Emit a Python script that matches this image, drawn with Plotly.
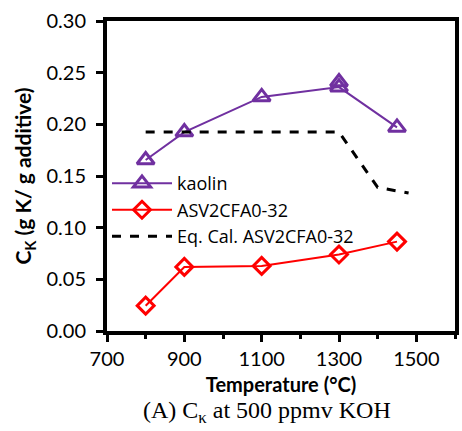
import plotly.graph_objects as go

# Temperatures (°C) and potassium capture coefficients C_K
temp_kaolin = [800, 900, 1100, 1300, 1450]
ck_kaolin = [0.1655, 0.1925, 0.2265, 0.236, 0.197]
temp_kaolin_extra = [1300]
ck_kaolin_extra = [0.241]

temp_asv = [800, 900, 1100, 1300, 1450]
ck_asv = [0.0245, 0.062, 0.063, 0.074, 0.0865]

temp_eq = [800, 1300, 1400, 1480]
ck_eq = [0.1925, 0.1925, 0.139, 0.1335]

x_ticks = [700, 900, 1100, 1300, 1500]
y_ticks = [0.00, 0.05, 0.10, 0.15, 0.20, 0.25, 0.30]

purple = "#7030A0"
red = "#FF0000"
sans = "Lato, Open Sans, sans-serif"

fig = go.Figure()
fig.add_trace(go.Scatter(
    x=temp_kaolin, y=ck_kaolin, mode="lines+markers", name="kaolin",
    line=dict(color=purple, width=2),
    marker=dict(symbol="triangle-up-open", size=15, color=purple, line=dict(width=3, color=purple)),
))
fig.add_trace(go.Scatter(
    x=temp_kaolin_extra, y=ck_kaolin_extra, mode="markers", showlegend=False,
    marker=dict(symbol="triangle-up-open", size=15, color=purple, line=dict(width=3, color=purple)),
))
fig.add_trace(go.Scatter(
    x=temp_asv, y=ck_asv, mode="lines+markers", name="ASV2CFA0-32",
    line=dict(color=red, width=2),
    marker=dict(symbol="diamond-open", size=13, color=red, line=dict(width=3, color=red)),
))
fig.add_trace(go.Scatter(
    x=temp_eq, y=ck_eq, mode="lines", name="Eq. Cal. ASV2CFA0-32",
    line=dict(color="black", width=3, dash="dash"),
))

axis_font = dict(family=sans, size=20, color="black")

fig.update_layout(
    width=462, height=431,
    margin=dict(l=107, r=3, t=21, b=100),
    plot_bgcolor="white", paper_bgcolor="white",
    font=axis_font,
    legend=dict(
        x=0.0, y=0.535, xanchor="left", yanchor="top",
        bgcolor="rgba(0,0,0,0)", font=dict(family="Open Sans, sans-serif", size=18, color="black"),
        itemwidth=60, tracegroupgap=0,
    ),
    xaxis=dict(
        range=[700, 1600], tickvals=x_ticks, ticks="outside", ticklen=7, tickwidth=3,
        tickcolor="black", showline=True, linecolor="black", linewidth=4, mirror=True,
        showgrid=False, zeroline=False, tickfont=axis_font,
        minor=dict(dtick=100, tick0=700, ticks="outside", ticklen=4, tickwidth=3, tickcolor="black", showgrid=False),
        title=dict(text="<b>Temperature (°C)</b>", font=dict(family=sans, size=20), standoff=10),
    ),
    yaxis=dict(
        range=[0, 0.30], tickvals=y_ticks, tickformat=".2f", ticks="outside", ticklen=7, tickwidth=3,
        tickcolor="black", showline=True, linecolor="black", linewidth=4, mirror=True,
        showgrid=False, zeroline=False, tickfont=axis_font, ticklabelstandoff=6,
        title=dict(text="<b>C<sub>K</sub> (g K/ g additive)</b>", font=dict(family=sans, size=21), standoff=10),
    ),
    annotations=[dict(
        text="(A) C<sub>κ</sub> at 500 ppmv KOH", xref="paper", yref="paper",
        x=0.46, y=-0.26, xanchor="center", yanchor="middle", showarrow=False,
        font=dict(family="Liberation Serif, Times New Roman, serif", size=24, color="black"),
    )],
)

fig.write_html("out.html")
